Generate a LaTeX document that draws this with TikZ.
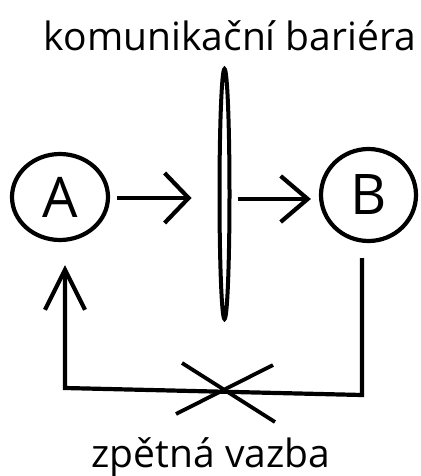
\documentclass[tikz,border=0pt]{standalone}
\usepackage{fontspec}
\setmainfont{Open Sans}
\usetikzlibrary{arrows.meta,shapes.geometric}

\tikzset{
  stroke/.style={line width=4.2pt, line cap=butt, line join=miter},
  party/.style={ellipse, draw, stroke, inner sep=0pt,
    font=\fontsize{56}{60}\selectfont},
  barrierlens/.style={ellipse, draw, line width=4pt, inner sep=0pt,
    minimum width=10pt, minimum height=250pt},
  caption/.style={anchor=base, inner sep=0pt,
    font=\fontsize{39}{47}\selectfont},
}

\begin{document}
\begin{tikzpicture}[x=1pt, y=-1pt]
  \useasboundingbox (0,0) rectangle (420,476);

  % labels
  \node[caption] (title) at (230,51) {komunikační bariéra};
  \node[caption] (feedback) at (211,467) {zpětná vazba};

  % the two parties and the barrier between them
  \node[party, minimum width=96pt, minimum height=86pt] (A) at (60,197) {A};
  \node[party, minimum width=95pt, minimum height=92pt] (B) at (368.5,195) {B};
  \node[barrierlens] (bar) at (224.5,194) {};

  % messages A -> barrier -> B
  \draw[stroke, -{Straight Barb[length=24pt, width=50pt]},
        shorten <=7pt, shorten >=26pt] (A.east |- 0,198) -- (bar.west |- 0,198);
  \draw[stroke, -{Straight Barb[length=27pt, width=46pt]},
        shorten <=6pt, shorten >=8pt] (bar.east |- 0,199) -- (B.west |- 0,199);

  % feedback loop back to A
  \coordinate (fbR) at (362,395);
  \coordinate (fbL) at (65,388);
  \draw[stroke, -{Straight Barb[length=40pt, width=40pt]},
        shorten <=15pt, shorten >=23pt]
    (B.south -| fbR) -- (fbR) -- (fbL) -- (A.south -| fbL);

  % the feedback is cut off
  \coordinate (xa1) at (182,363);
  \coordinate (xa2) at (275,422);
  \coordinate (xb1) at (176,414);
  \coordinate (xb2) at (273,365);
  \draw[stroke, line width=3.8pt] (xa1) -- (xa2);
  \draw[stroke, line width=3.8pt] (xb1) -- (xb2);
\end{tikzpicture}
\end{document}
